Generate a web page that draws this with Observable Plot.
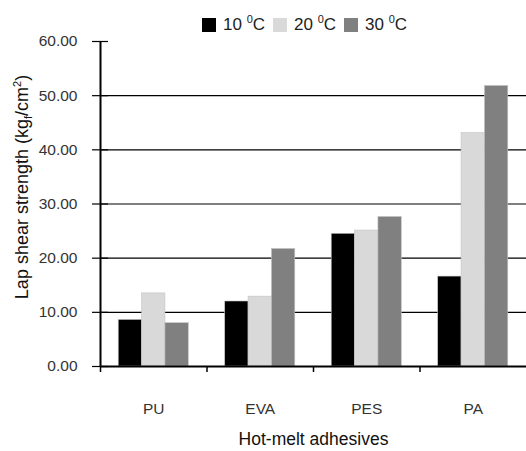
<!DOCTYPE html>
<html>
<head>
<meta charset="utf-8">
<script src="https://cdn.jsdelivr.net/npm/d3@7"></script>
<script src="https://cdn.jsdelivr.net/npm/@observablehq/plot@0.6"></script>
<style>
  html, body { margin: 0; padding: 0; background: #fff; }
  body { width: 526px; height: 451px; overflow: hidden; font-family: "Liberation Sans", Arial, sans-serif; }
  #legend { height: 22px; padding-top: 14px; padding-left: 202px; display: flex; align-items: center; font-size: 17px; color: #222; }
  #legend .item { display: flex; align-items: center; margin-right: 8px; }
  #legend .sw { width: 14px; height: 14px; margin-right: 7px; }
  #legend sup { font-size: 11px; vertical-align: 7px; line-height: 0; }
</style>
</head>
<body>
<div id="legend"></div>
<div id="chart"></div>
<script>
// Adhesive types on the x axis
const adhesives = ["PU", "EVA", "PES", "PA"];
// Test temperatures (°C), one bar per adhesive each
const temps = ["10", "20", "30"];
const colors = ["#000000", "#d9d9d9", "#808080"];
// Lap shear strength (kgf/cm²) by temperature, in adhesive order
const strength10 = [8.6, 12.0, 24.5, 16.6];
const strength20 = [13.5, 12.9, 25.1, 43.1];
const strength30 = [8.0, 21.7, 27.6, 51.8];
// Y axis ticks
const yTicks = [0, 10, 20, 30, 40, 50, 60];

const series = [strength10, strength20, strength30];
const rows = adhesives.flatMap((a, i) =>
  temps.map((t, j) => ({adhesive: a, idx: i, temp: t, value: series[j][i]}))
);

// Position of each temperature bar inside its adhesive group (in group units)
const inner = d3.scaleBand(temps, [0, 1]).paddingInner(0).paddingOuter(0.78);

const font = "Liberation Sans, Arial, sans-serif";

const chart = Plot.plot({
  width: 526,
  height: 415,
  marginTop: 5,
  marginBottom: 85,
  marginLeft: 100,
  marginRight: 0,
  style: {fontFamily: font, overflow: "visible", background: "#fff"},
  x: {domain: [0, adhesives.length], axis: null},
  y: {domain: [0, 60], axis: null},
  color: {domain: temps, range: colors},
  marks: [
    // horizontal gridlines
    Plot.ruleY(yTicks.filter(v => v > 0 && v < 60), {stroke: "#000", strokeWidth: 1.2}),
    // bars
    Plot.rectY(rows, {
      x1: d => d.idx + inner(d.temp),
      x2: d => d.idx + inner(d.temp) + inner.bandwidth(),
      y: "value",
      fill: "temp",
      stroke: "#c4c4c4",
      strokeWidth: 0.6
    }),
    // y axis: outward ticks with labels, plus inward half of the crossing ticks
    Plot.axisY({ticks: yTicks, tickSize: 8, tickPadding: 15, tickFormat: d3.format(".2f"),
      fontSize: 15.5, color: "#333", stroke: "#000", strokeWidth: 1.2, label: null}),
    Plot.axisY({ticks: yTicks, tickSize: 8, dx: 8, tickFormat: () => "", stroke: "#000", strokeWidth: 1.2, label: null}),
    // x axis: ticks at group boundaries, labels at group centers
    Plot.axisX({ticks: d3.range(adhesives.length), tickSize: 6, tickFormat: () => "", stroke: "#000", strokeWidth: 1.5, label: null}),
    Plot.axisX({ticks: adhesives.map((a, i) => i + 0.5), tickSize: 0, tickPadding: 36,
      tickFormat: v => adhesives[Math.floor(v)], fontSize: 15.5, color: "#333", label: null}),
    // axis lines
    Plot.ruleX([0], {stroke: "#000", strokeWidth: 2}),
    Plot.ruleY([0], {stroke: "#000", strokeWidth: 2}),
    // x axis title
    Plot.text(["Hot-melt adhesives"], {frameAnchor: "bottom", dy: 73, lineAnchor: "middle",
      fontSize: 17.5, fill: "#111"})
  ]
});
document.getElementById("chart").append(chart);

// y axis title with subscript and superscript
const title = d3.select(chart).append("text")
  .attr("transform", "translate(28,151) rotate(-90)")
  .attr("text-anchor", "middle")
  .attr("font-family", font)
  .attr("font-size", 18)
  .attr("fill", "#111");
title.append("tspan").text("Lap shear strength (kg");
title.append("tspan").attr("dy", 4).attr("font-size", 11).text("f");
title.append("tspan").attr("dy", -4).text("/cm");
title.append("tspan").attr("dy", -7).attr("font-size", 11).text("2");
title.append("tspan").attr("dy", 7).text(")");

// legend above the chart
const legend = d3.select("#legend");
temps.forEach((t, j) => {
  const item = legend.append("div").attr("class", "item");
  item.append("div").attr("class", "sw").style("background", colors[j]);
  const label = item.append("span");
  label.append("span").text(t + " ");
  label.append("sup").text("0");
  label.append("span").text("C");
});
</script>
</body>
</html>
